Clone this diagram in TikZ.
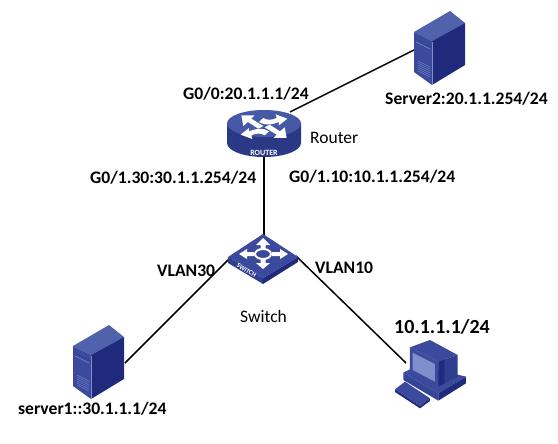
\documentclass[tikz,border=0pt]{standalone}
\usepackage{fontspec}
\setmainfont{Carlito}
\definecolor{navy}{HTML}{1F2A7C}
\definecolor{midb}{HTML}{3B4A9C}
\definecolor{topb}{HTML}{5062AC}
\definecolor{lightb}{HTML}{7F8FCC}
\definecolor{rim}{HTML}{2F3D8F}
\definecolor{routertop}{HTML}{4659A6}
\definecolor{routerside}{HTML}{2A3886}
\tikzset{
  lab/.style={font=\bfseries\fontsize{17.6}{20}\selectfont,inner sep=0pt,text=black},
  plain/.style={font=\fontsize{17.5}{20}\selectfont,inner sep=0pt,text=black},
  link/.style={draw=black,line width=1.5pt},
  pics/tower/.style={code={
    \fill[topb] (0,21)--(36,0)--(51,12)--(18,30)--cycle;
    \fill[midb] (0,21)--(18,30)--(18,74)--(0,61)--cycle;
    \fill[navy] (18,30)--(51,12)--(51,54)--(18,74)--cycle;
    \draw[rim,line width=.5pt] (0,27)--(18,36);
    \draw[lightb,line width=.6pt] (2,31)--(16,38);
    \foreach \k in {0,2,4,6,8,10} \draw[lightb,line width=.4pt] (4,50+\k)--(16,56+\k);
    \draw[lightb,line width=.5pt] (18,31)--(18,74);
  }}
}
\begin{document}
\begin{tikzpicture}[x=1pt,y=-1pt]
\useasboundingbox (0,0) rectangle (558,444);
\fill[white] (0,0) rectangle (558,444);
\coordinate (routerTop) at (290,112);
\coordinate (routerBottom) at (264,155);
\coordinate (switchTop) at (264,236);
\coordinate (switchLeft) at (232,256);
\coordinate (switchRight) at (296,256);
\coordinate (serverTwoPort) at (416,49);
\coordinate (serverOnePort) at (125,363);
\coordinate (pcPort) at (406,363);
\draw[link] (routerTop) -- (serverTwoPort);
\draw[link] (routerBottom) -- (switchTop);
\draw[link] (switchLeft) -- (serverOnePort);
\draw[link] (switchRight) -- (pcPort);
% server 2 and server 1
\pic at (414,11) {tower};
\pic at (73,325) {tower};
% router
\fill[routerside] (227,123) -- (227,143) arc[start angle=180,end angle=0,x radius=37,y radius=14] -- (301,123) -- cycle;
\fill[routertop] (264,123.5) ellipse[x radius=37,y radius=13.5];
\begin{scope}[shift={(224,106)},x=0.3333pt,y=-0.3333pt]
  \fill[white] (52,28)--(92,28)--(82,38)--(118,60)--(103,68)--(72,48)--(58,60)--cycle;
  \fill[white] (188,96)--(148,96)--(158,86)--(122,64)--(137,56)--(168,76)--(182,64)--cycle;
  \fill[white] (155,25)--(190,38)--(165,58)--(165,48) .. controls (140,58) and (120,58) .. (105,48) -- (118,36) .. controls (130,44) and (145,42) .. (158,36) -- cycle;
  \fill[white] (85,99)--(50,86)--(75,66)--(75,76) .. controls (100,66) and (120,66) .. (135,76) -- (122,88) .. controls (110,80) and (95,82) .. (82,88) -- cycle;
\end{scope}
\node[inner sep=0pt,text=white,font=\bfseries\fontsize{8}{9}\selectfont] (routerText) at (264,152.5) {ROUTER};
% switch
\fill[midb!60!navy] (228,257)--(263,278)--(263,284)--(228,263)--cycle;
\fill[navy] (263,278)--(298,257)--(298,262)--(263,284)--cycle;
\fill[midb] (228,257)--(263,234)--(298,257)--(263,278)--cycle;
\fill[white] (263,238)--(270,245)--(265.5,245)--(265.5,250)--(260.5,250)--(260.5,245)--(256,245)--cycle;
\fill[white] (263,269)--(270,263)--(265.5,263)--(265.5,258)--(260.5,258)--(260.5,263)--(256,263)--cycle;
\fill[white] (239,254)--(247,249)--(247,252)--(254,252)--(254,256)--(247,256)--(247,259)--cycle;
\fill[white] (288,254)--(280,249)--(280,252)--(272,252)--(272,256)--(280,256)--(280,259)--cycle;
\draw[white,line width=2pt,fill=midb] (263,254) ellipse[x radius=8,y radius=5];
\node[inner sep=0pt,text=white,font=\bfseries\fontsize{6.5}{7}\selectfont,rotate=-31] (switchText) at (246.5,270.5) {SWITCH};
% PC
\begin{scope}[shift={(385,330)},x=0.3333pt,y=-0.3333pt]
  \fill[midb] (30,178)--(60,155)--(135,205)--(105,228)--cycle;
  \fill[navy] (30,178)--(105,228)--(105,235)--(30,186)--cycle;
  \fill[navy] (105,228)--(135,205)--(135,213)--(105,235)--cycle;
  \fill[midb] (55,128)--(100,105)--(243,140)--(160,190)--cycle;
  \fill[midb!80!navy] (55,128)--(160,190)--(160,212)--(55,150)--cycle;
  \fill[navy] (160,190)--(243,140)--(243,160)--(160,212)--cycle;
  \fill[midb] (75,52)--(135,30)--(218,75)--(160,95)--cycle;
  \fill[rim] (160,95)--(218,75)--(218,140)--(160,170)--cycle;
  \fill[navy] (160,95)--(178,88)--(178,160)--(160,170)--cycle;
  \fill[midb] (75,52)--(160,95)--(160,170)--(75,125)--cycle;
  \fill[lightb] (83,68)--(150,102)--(150,155)--(83,120)--cycle;
\end{scope}
% labels
\node[lab,anchor=west] (lblRouterWan) at (183,94) {G0/0:20.1.1.1/24};
\node[lab,anchor=west] (lblServerTwo) at (385,99) {Server2:20.1.1.254/24};
\node[plain,anchor=west] (lblRouter) at (310,138) {Router};
\node[lab,anchor=west] (lblThirty) at (90,178) {G0/1.30:30.1.1.254/24};
\node[lab,anchor=west] (lblTen) at (289,177) {G0/1.10:10.1.1.254/24};
\node[lab,anchor=west] (lblVlanThirty) at (157,271) {VLAN30};
\node[lab,anchor=west] (lblVlanTen) at (315,268) {VLAN10};
\node[plain,anchor=west] (lblSwitch) at (240,316) {Switch};
\node[lab,anchor=west,font=\bfseries\fontsize{20}{22}\selectfont] (lblPc) at (394,327) {10.1.1.1/24};
\node[lab,anchor=west] (lblServerOne) at (18,409) {server1::30.1.1.1/24};
\end{tikzpicture}
\end{document}
